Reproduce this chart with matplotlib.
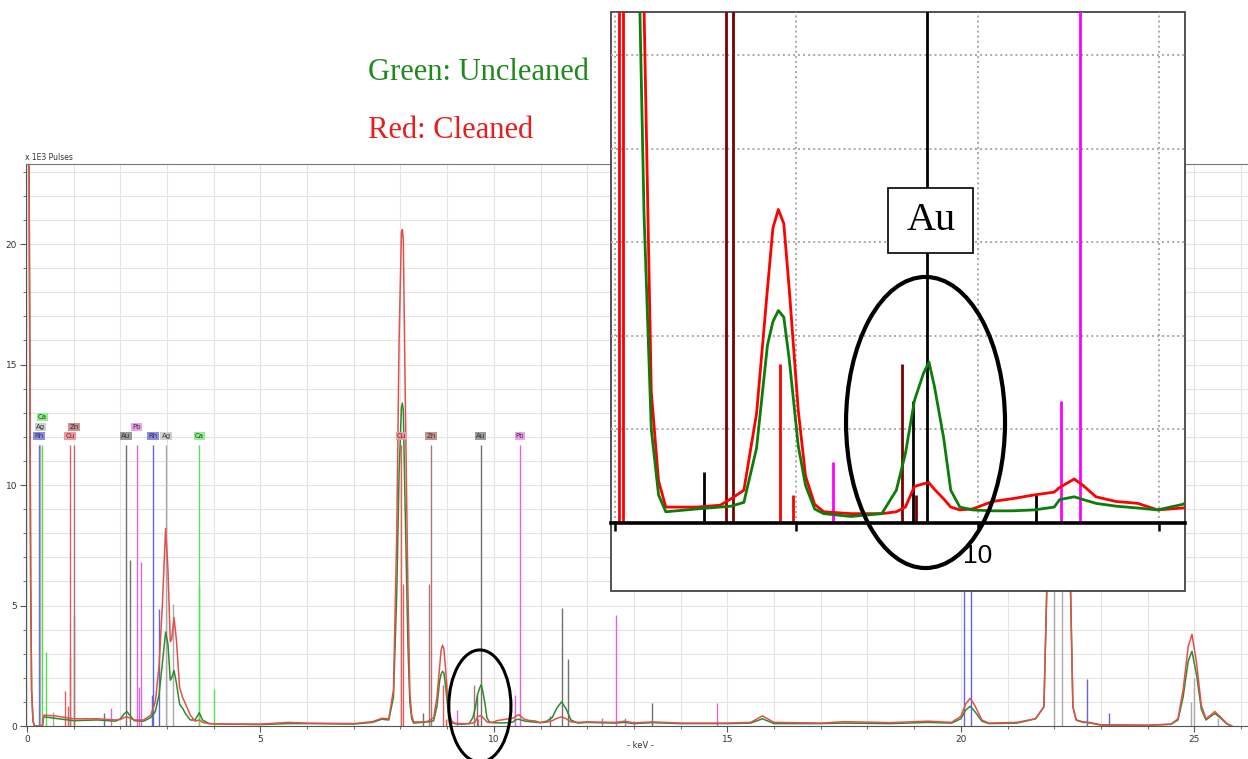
import matplotlib
matplotlib.use("Agg")
import matplotlib.pyplot as plt
from matplotlib.patches import Ellipse, Rectangle

# XRF spectrum (keV, x1E3 pulses)
energy = [0.00, 0.04, 0.06, 0.08, 0.10, 0.13, 0.16, 0.33, 0.36, 0.60,
          1.00, 1.50, 1.90, 2.00, 2.08, 2.14, 2.20, 2.30, 2.50, 2.65,
          2.75, 2.83, 2.90, 2.97, 3.02, 3.07, 3.10, 3.15, 3.20, 3.27,
          3.33, 3.40, 3.50, 3.60, 3.69, 3.76, 3.90, 4.20, 5.00, 5.60,
          6.00, 7.00, 7.40, 7.60, 7.75, 7.85, 7.92, 7.97, 8.02, 8.04,
          8.06, 8.10, 8.16, 8.20, 8.24, 8.28, 8.45, 8.58, 8.64, 8.71,
          8.78, 8.84, 8.87, 8.90, 8.93, 8.96, 9.01, 9.05, 9.10, 9.15,
          9.30, 9.47, 9.55, 9.60, 9.65, 9.70, 9.73, 9.76, 9.81, 9.85,
          9.90, 9.97, 10.08, 10.19, 10.31, 10.42, 10.45, 10.53, 10.58, 10.65,
          10.76, 10.88, 10.99, 11.13, 11.25, 11.35, 11.45, 11.55, 11.65, 11.80,
          12.00, 12.60, 12.80, 13.00, 13.40, 14.00, 15.00, 15.50, 15.75, 16.00,
          17.00, 17.50, 18.50, 19.30, 19.80, 20.00, 20.10, 20.20, 20.30, 20.45,
          20.60, 21.20, 21.60, 21.78, 21.84, 21.95, 22.10, 22.25, 22.35, 22.40,
          22.47, 22.60, 22.75, 23.00, 24.00, 24.50, 24.65, 24.76, 24.87, 24.95,
          25.05, 25.15, 25.25, 25.35, 25.44, 25.55, 25.70, 25.80]
cleaned = [30, 26, 16, 6, 1.5, 0.2, 0.0, 0.0, 0.45, 0.42,
           0.30, 0.30, 0.25, 0.27, 0.35, 0.38, 0.33, 0.25, 0.25, 0.45,
           1.00, 2.50, 5.00, 8.20, 6.50, 3.50, 3.60, 4.50, 3.60, 1.60,
           1.20, 0.90, 0.45, 0.20, 0.25, 0.15, 0.10, 0.08, 0.08, 0.15,
           0.12, 0.10, 0.18, 0.32, 0.30, 1.50, 8.00, 16.0, 20.5, 20.6,
           20.2, 14.0, 5.5, 1.4, 0.45, 0.17, 0.17, 0.19, 0.26, 0.35,
           1.17, 2.50, 3.15, 3.35, 3.20, 2.50, 1.20, 0.50, 0.20, 0.12,
           0.10, 0.10, 0.12, 0.17, 0.39, 0.42, 0.43, 0.36, 0.26, 0.17,
           0.14, 0.15, 0.23, 0.26, 0.30, 0.33, 0.38, 0.47, 0.40, 0.28,
           0.23, 0.21, 0.14, 0.16, 0.22, 0.32, 0.38, 0.30, 0.17, 0.15,
           0.17, 0.15, 0.20, 0.13, 0.17, 0.12, 0.12, 0.15, 0.42, 0.15,
           0.12, 0.18, 0.14, 0.20, 0.15, 0.40, 0.90, 1.15, 0.85, 0.25,
           0.12, 0.15, 0.30, 0.80, 5.6, 18, 22, 18, 5.6, 0.80,
           0.25, 0.18, 0.15, 0.05, 0.03, 0.08, 0.30, 1.50, 3.30, 3.80,
           2.60, 0.86, 0.30, 0.45, 0.60, 0.40, 0.10, 0.00]
uncleaned = [30, 26, 16, 6, 1.5, 0.2, 0.0, 0.0, 0.38, 0.32,
             0.22, 0.25, 0.20, 0.30, 0.50, 0.60, 0.45, 0.22, 0.20, 0.35,
             0.60, 1.30, 2.60, 3.90, 3.40, 1.90, 2.00, 2.30, 1.80, 0.90,
             0.75, 0.50, 0.25, 0.25, 0.55, 0.25, 0.10, 0.08, 0.06, 0.10,
             0.10, 0.08, 0.15, 0.28, 0.25, 1.20, 5.50, 10.5, 13.2, 13.4,
             13.1, 9.0, 3.3, 1.0, 0.30, 0.12, 0.15, 0.17, 0.18, 0.22,
             0.80, 1.90, 2.15, 2.27, 2.20, 1.75, 0.82, 0.40, 0.15, 0.10,
             0.07, 0.10, 0.35, 0.74, 1.31, 1.60, 1.72, 1.46, 0.92, 0.35,
             0.17, 0.14, 0.13, 0.13, 0.14, 0.17, 0.25, 0.28, 0.25, 0.21,
             0.18, 0.16, 0.14, 0.20, 0.35, 0.75, 1.00, 0.70, 0.25, 0.12,
             0.15, 0.12, 0.15, 0.10, 0.14, 0.10, 0.10, 0.12, 0.30, 0.10,
             0.10, 0.12, 0.10, 0.15, 0.12, 0.30, 0.65, 0.82, 0.60, 0.20,
             0.10, 0.12, 0.30, 0.80, 5.6, 18, 22, 18, 5.6, 0.80,
             0.25, 0.16, 0.13, 0.04, 0.03, 0.07, 0.25, 1.20, 2.70, 3.10,
             2.10, 0.70, 0.25, 0.40, 0.52, 0.35, 0.08, 0.00]

# element marker lines
line_kev = [0.26, 0.29, 0.33, 0.41, 0.56, 0.81, 0.88, 0.92, 0.93, 1.01,
            1.01, 1.65, 1.81, 2.12, 2.20, 2.35, 2.39, 2.45, 2.68, 2.70,
            2.83, 2.98, 3.13, 3.69, 3.69, 4.01, 8.02, 8.045, 8.49, 8.61,
            8.65, 8.91, 8.98, 9.20, 9.58, 9.64, 9.66, 9.72, 10.32, 10.46,
            10.56, 11.20, 11.45, 11.58, 12.31, 12.61, 12.80, 13.00, 13.38, 14.77,
            20.07, 20.22, 21.99, 22.16, 22.71, 23.17, 24.94, 25.00, 25.50]
line_height = [11.66, 11.66, 11.66, 3.05, 0.6, 1.45, 0.85, 11.66, 2.85, 11.66,
               4.55, 0.55, 0.75, 11.66, 6.9, 11.66, 1.6, 6.8, 1.3, 11.66,
               4.85, 11.66, 5.05, 11.66, 5.8, 1.55, 11.66, 5.9, 0.55, 5.9,
               11.66, 1.7, 0.3, 0.65, 1.7, 1.3, 0.3, 11.66, 0.3, 1.3,
               11.66, 0.4, 4.9, 2.8, 0.35, 4.6, 0.35, 0.2, 0.95, 0.95,
               11.66, 11.66, 11.66, 11.66, 1.95, 0.55, 1.0, 2.0, 0.35]
line_elem = ["Rh", "Ag", "Ca", "Ca", "Ag", "Cu", "Zn", "Cu", "Cu", "Zn",
             "Zn", "Au", "Pb", "Au", "Au", "Pb", "Pb", "Pb", "Rh", "Rh",
             "Rh", "Ag", "Ag", "Ca", "Ca", "Ca", "Cu", "Cu", "Au", "Zn",
             "Zn", "Cu", "Cu", "Pb", "Zn", "Au", "Zn", "Au", "Au", "Pb",
             "Pb", "Au", "Au", "Au", "Pb", "Pb", "Pb", "Pb", "Au", "Pb",
             "Rh", "Rh", "Ag", "Ag", "Rh", "Rh", "Ag", "Ag", "Ag"]

# element tags above the lines
label_kev = [0.26, 0.29, 0.33, 0.92, 1.01, 2.12, 2.35, 2.70, 2.98, 3.69,
             8.02, 8.65, 9.72, 10.56]
label_elem = ["Rh", "Ag", "Ca", "Cu", "Zn", "Au", "Pb", "Rh", "Ag", "Ca",
              "Cu", "Zn", "Au", "Pb"]
label_row = [0, 1, 2, 0, 1, 0, 1, 0, 0, 0, 0, 0, 0, 0]

main_line_col = {"Rh": "#6464e0", "Ag": "#aaaaaa", "Ca": "#55e055", "Cu": "#e85c5c",
                 "Zn": "#b07474", "Au": "#707070", "Pb": "#e066e0"}
tag_col = {"Rh": "#8c8cf0", "Ag": "#cfcfcf", "Ca": "#8cf08c", "Cu": "#f29a9a",
           "Zn": "#c89090", "Au": "#9a9a9a", "Pb": "#f0a0f0"}
inset_line_col = {"Rh": "#0000ff", "Ag": "#888888", "Ca": "#00cc00", "Cu": "#ff0000",
                  "Zn": "#7a0000", "Au": "#000000", "Pb": "#ff00ff"}

W, H = 1248, 759
fig = plt.figure(figsize=(12.48, 7.59), dpi=100)

# ---- main spectrum ----
ax = fig.add_axes([26 / W, 33 / H, 1222 / W, 562 / H])
ax.set_xlim(-0.02, 26.15)
ax.set_ylim(0, 23.32)
ax.set_xticks(range(0, 26, 5))
ax.set_xticks(range(0, 27), minor=True)
ax.set_yticks(range(0, 21, 5))
ax.set_yticks(range(0, 24), minor=True)
ax.grid(which="both", color="#e4e4e4", lw=0.8)
ax.set_axisbelow(True)
ax.tick_params(which="major", length=4.5, labelsize=6.5, colors="#555", labelcolor="#333", pad=2)
ax.tick_params(which="minor", length=2.5, colors="#555")
ax.spines["right"].set_visible(False)
ax.spines["top"].set_color("#777")
for s in ("left", "bottom"):
    ax.spines[s].set_color("#555")

ax.vlines(line_kev, 0, line_height, colors=[main_line_col[e] for e in line_elem], lw=1.0, zorder=2)
ax.plot(energy, uncleaned, color="#2e8b2e", lw=1.1, zorder=3)
ax.plot(energy, cleaned, color="#e2504c", lw=1.1, zorder=3)

for x, e, r in zip(label_kev, label_elem, label_row):
    ax.text(x, 12.03 + 0.39 * r, e, fontsize=5, ha="center", va="center", color="#333",
            bbox=dict(boxstyle="square,pad=0.15", fc=tag_col[e], ec="none"), zorder=4)

ax.add_patch(Ellipse((9.70, 0.83), 1.33, 4.65, fill=False, ec="black", lw=2.2, clip_on=False, zorder=5))

fig.text(25 / W, 1 - 158 / H, "x 1E3 Pulses", fontsize=5.5, color="#333", va="center")
fig.text(640 / W, 1 - 745 / H, "- keV -", fontsize=6, color="#333", ha="center", va="center")

fig.text(368 / W, 1 - 73 / H, "Green: Uncleaned", fontsize=22, color="#1e8a1e",
         family="Liberation Serif", va="center")
fig.text(368 / W, 1 - 130 / H, "Red: Cleaned", fontsize=22, color="#e61e1e",
         family="Liberation Serif", va="center")

# ---- zoomed inset ----
box = Rectangle((611 / W, 1 - 590.7 / H), 573.7 / W, 578.7 / H, transform=fig.transFigure,
                fc="white", ec="#444", lw=1.3, zorder=5)
fig.add_artist(box)

axin = fig.add_axes([611 / W, 1 - 523 / H, 573.7 / W, 511 / H], zorder=6)
axin.patch.set_alpha(0)
axin.set_xlim(7.978, 11.139)
axin.set_ylim(0, 5.46)
axin.set_xticks([8, 9, 10, 11])
axin.set_xticklabels(["", "", "10", ""], fontsize=19, family="Liberation Sans")
axin.set_yticks([1, 2, 3, 4, 5])
axin.set_yticklabels([])
axin.tick_params(axis="x", length=6, width=1.8, color="black", pad=9)
axin.tick_params(axis="y", length=0)
axin.grid(color="#aaaaaa", lw=1.4, linestyle=(0, (1, 1.6)))
axin.set_axisbelow(True)
for s in ("left", "top", "right"):
    axin.spines[s].set_visible(False)
axin.spines["bottom"].set_linewidth(2.6)
axin.spines["bottom"].set_color("black")

sel = [i for i, x in enumerate(line_kev) if 7.9 < x < 11.2]
axin.vlines([line_kev[i] for i in sel], 0, [line_height[i] for i in sel],
            colors=[inset_line_col[line_elem[i]] for i in sel], lw=2.0, zorder=2)
axin.plot(energy, cleaned, color="#ff0000", lw=2.0, zorder=3)
axin.plot(energy, uncleaned, color="#0b7d0b", lw=2.0, zorder=3)

axin.add_patch(Rectangle((0.4835, 0.528), 0.1475, 0.1276, transform=axin.transAxes,
                         fc="white", ec="black", lw=1.2, zorder=4))
axin.text(0.5575, 0.592, "Au", transform=axin.transAxes, fontsize=29, family="Liberation Serif",
          ha="center", va="center", zorder=5)
axin.add_patch(Ellipse((9.711, 1.074), 0.876, 3.11, fill=False, ec="black", lw=3.0,
                       clip_on=False, zorder=6))

fig.savefig("out.png", dpi=100)
